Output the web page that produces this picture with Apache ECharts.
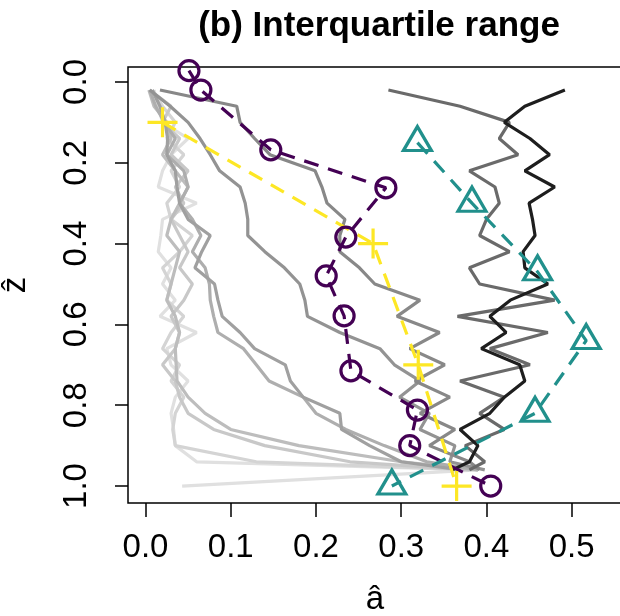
<!DOCTYPE html>
<html>
<head>
<meta charset="utf-8">
<script src="https://cdn.jsdelivr.net/npm/echarts@6/dist/echarts.min.js"></script>
<style>
  html, body { margin: 0; background: #fff; }
  #chart { width: 620px; height: 616px; }
</style>
</head>
<body>
<div id="chart"></div>
<script>
// depth grid shared by the grey profiles
const depths = [0.02, 0.06, 0.10, 0.14, 0.18, 0.22, 0.26, 0.30, 0.34, 0.38, 0.42, 0.46, 0.50,
  0.54, 0.58, 0.62, 0.66, 0.70, 0.74, 0.78, 0.82, 0.86, 0.90, 0.94, 0.96, 1.0]

// grey profiles, lightest to darkest
const grey1 = [0.010, 0.015, 0.020, 0.050, 0.030, 0.020, 0.015, 0.060, 0.020, 0.018, 0.015, 0.030, 0.020,
  0.035, 0.017, 0.060, 0.025, 0.030, 0.050, 0.035, 0.030, 0.033, 0.035, 0.060, 0.390, 0.043]
const grey2 = [0.008, 0.020, 0.035, 0.025, 0.045, 0.030, 0.040, 0.025, 0.030, 0.055, 0.040, 0.020, 0.030,
  0.025, 0.045, 0.030, 0.020, 0.040, 0.030, 0.045, 0.035, 0.032, 0.035, 0.130, 0.390, null]
const grey3 = [0.005, 0.030, 0.020, 0.040, 0.030, 0.050, 0.035, 0.045, 0.030, 0.040, 0.050, 0.040, 0.055,
  0.045, 0.030, 0.040, 0.035, 0.020, 0.035, 0.040, 0.050, 0.080, 0.140, 0.240, 0.380, null]
const grey4 = [0.004, 0.010, 0.025, 0.030, 0.020, 0.035, 0.050, 0.040, 0.030, 0.025, 0.040, 0.035, 0.030,
  0.025, 0.035, 0.040, 0.035, 0.036, 0.037, 0.050, 0.070, 0.100, 0.180, 0.300, 0.390, null]
const grey5 = [0.005, 0.012, 0.022, 0.035, 0.025, 0.045, 0.050, 0.040, 0.055, 0.065, 0.055, 0.070, 0.075,
  0.076, 0.080, 0.085, 0.115, 0.130, 0.145, 0.185, 0.200, 0.235, 0.280, 0.330, 0.390, null]
const grey6 = [0.008, 0.017, 0.023, 0.026, 0.025, 0.035, 0.037, 0.040, 0.050, 0.076, 0.066, 0.058, 0.081,
  0.085, 0.090, 0.111, 0.128, 0.164, 0.170, 0.185, 0.228, 0.230, 0.263, 0.300, 0.370, null]
const grey7 = [0.005, 0.029, 0.050, 0.064, 0.076, 0.087, 0.111, 0.117, 0.120, 0.120, 0.140, 0.163, 0.181,
  0.187, 0.190, 0.228, 0.275, 0.292, 0.322, 0.298, 0.333, 0.322, 0.363, 0.357, 0.398, null]
const grey8 = [0.017, 0.107, 0.111, 0.128, 0.146, 0.199, 0.207, 0.213, 0.234, 0.228, 0.228, 0.251, 0.269,
  0.322, 0.295, 0.345, 0.310, 0.351, 0.316, 0.357, 0.322, 0.363, 0.333, 0.380, 0.392, null]
const grey9 = [0.285, 0.369, 0.427, 0.415, 0.437, 0.380, 0.410, 0.415, 0.400, 0.392, 0.427, 0.380, 0.392,
  0.480, 0.366, 0.472, 0.404, 0.451, 0.369, 0.421, 0.392, 0.421, 0.375, 0.398, 0.380, null]
const grey10 = [0.492, 0.445, 0.421, 0.451, 0.474, 0.445, 0.480, 0.450, 0.454, 0.457, 0.443, 0.445, 0.472,
  0.428, 0.404, 0.423, 0.394, 0.439, 0.445, 0.421, 0.404, 0.369, 0.390, 0.380, 0.360, null]

const greyProfiles = [grey1, grey2, grey3, grey4, grey5, grey6, grey7, grey8, grey9, grey10]
const greyColors = ['#e0e0e0', '#d4d4d4', '#c8c8c8', '#bdbdbd', '#aeaeae', '#a0a0a0',
  '#939393', '#888888', '#6a6a6a', '#1e1e1e']

// marked series
const circleA = [0.051, 0.065, 0.147, 0.282, 0.235, 0.212, 0.233, 0.241, 0.319, 0.310, 0.405]
const circleZ = [-0.028, 0.020, 0.168, 0.262, 0.384, 0.480, 0.579, 0.715, 0.812, 0.900, 1.0]
const plusA = [0.020, 0.267, 0.320, 0.365]
const plusZ = [0.1, 0.4, 0.7, 1.0]
const triA = [0.319, 0.383, 0.460, 0.517, 0.457, 0.289]
const triZ = [0.15, 0.30, 0.47, 0.64, 0.82, 1.0]

const xTicks = [0, 0.1, 0.2, 0.3, 0.4, 0.5]
const yTicks = [0, 0.2, 0.4, 0.6, 0.8, 1.0]

const fontFamily = 'Liberation Sans, Arial, sans-serif'
const purple = '#440154'
const yellow = '#fde725'
const teal = '#21908c'

const pairs = (xs, zs) => xs.map((x, i) => (x == null ? null : [x, zs[i]]))

const series = greyProfiles.map((xs, i) => ({
  type: 'line',
  data: pairs(xs, depths).filter(p => p),
  symbol: 'none',
  lineStyle: { color: greyColors[i], width: 3.2 },
  z: 2,
}))

series.push({
  type: 'line',
  data: pairs(circleA, circleZ),
  symbol: 'circle',
  symbolSize: 20,
  itemStyle: { color: 'rgba(0,0,0,0)', borderColor: purple, borderWidth: 3.2 },
  lineStyle: { color: purple, width: 3.2, type: [15, 10] },
  z: 3,
})
series.push({
  type: 'line',
  data: pairs(plusA, plusZ),
  symbol: 'path://M15,0L15,30M0,15L30,15',
  symbolSize: 30,
  itemStyle: { color: 'rgba(0,0,0,0)', borderColor: yellow, borderWidth: 3.2 },
  lineStyle: { color: yellow, width: 3.2, type: [15, 10] },
  z: 3,
})
series.push({
  type: 'line',
  data: pairs(triA, triZ),
  symbol: 'path://M14,0L28,24L0,24Z',
  symbolSize: [28, 24],
  symbolOffset: [0, -4],
  itemStyle: { color: 'rgba(0,0,0,0)', borderColor: teal, borderWidth: 3.2 },
  lineStyle: { color: teal, width: 3.2, type: [15, 10] },
  z: 3,
})

const chart = echarts.init(document.getElementById('chart'))
chart.setOption({
  animation: false,
  backgroundColor: '#fff',
  title: {
    text: '(b) Interquartile range',
    left: 374,
    top: 4,
    textAlign: 'center',
    textStyle: { fontSize: 35, fontWeight: 'bold', color: '#000', fontFamily },
  },
  grid: {
    left: 128,
    top: 67,
    width: 494,
    height: 436,
    show: true,
    borderColor: '#000',
    borderWidth: 1.5,
    outerBoundsMode: 'none',
    containLabel: false,
  },
  xAxis: {
    type: 'value',
    min: -0.0205,
    max: 0.559,
    axisLine: { show: false, onZero: false },
    axisTick: { show: true, length: 14, customValues: xTicks, lineStyle: { color: '#000', width: 1.5 } },
    axisLabel: {
      customValues: xTicks,
      formatter: v => v.toFixed(1),
      fontSize: 33,
      color: '#000',
      margin: 28,
      fontFamily,
    },
    splitLine: { show: false },
    name: 'â',
    nameLocation: 'middle',
    nameGap: 80,
    nameTextStyle: { fontSize: 33, color: '#000', fontFamily },
  },
  yAxis: {
    type: 'value',
    inverse: true,
    min: -0.037,
    max: 1.042,
    axisLine: { show: false, onZero: false },
    axisTick: { show: true, length: 13, customValues: yTicks, lineStyle: { color: '#000', width: 1.5 } },
    axisLabel: {
      customValues: yTicks,
      formatter: v => v.toFixed(1),
      rotate: 90,
      fontSize: 33,
      color: '#000',
      margin: 35,
      fontFamily,
    },
    splitLine: { show: false },
    name: 'ẑ',
    nameLocation: 'middle',
    nameRotate: 90,
    nameGap: 96,
    nameTextStyle: { fontSize: 33, color: '#000', fontFamily },
  },
  series,
})
</script>
</body>
</html>
